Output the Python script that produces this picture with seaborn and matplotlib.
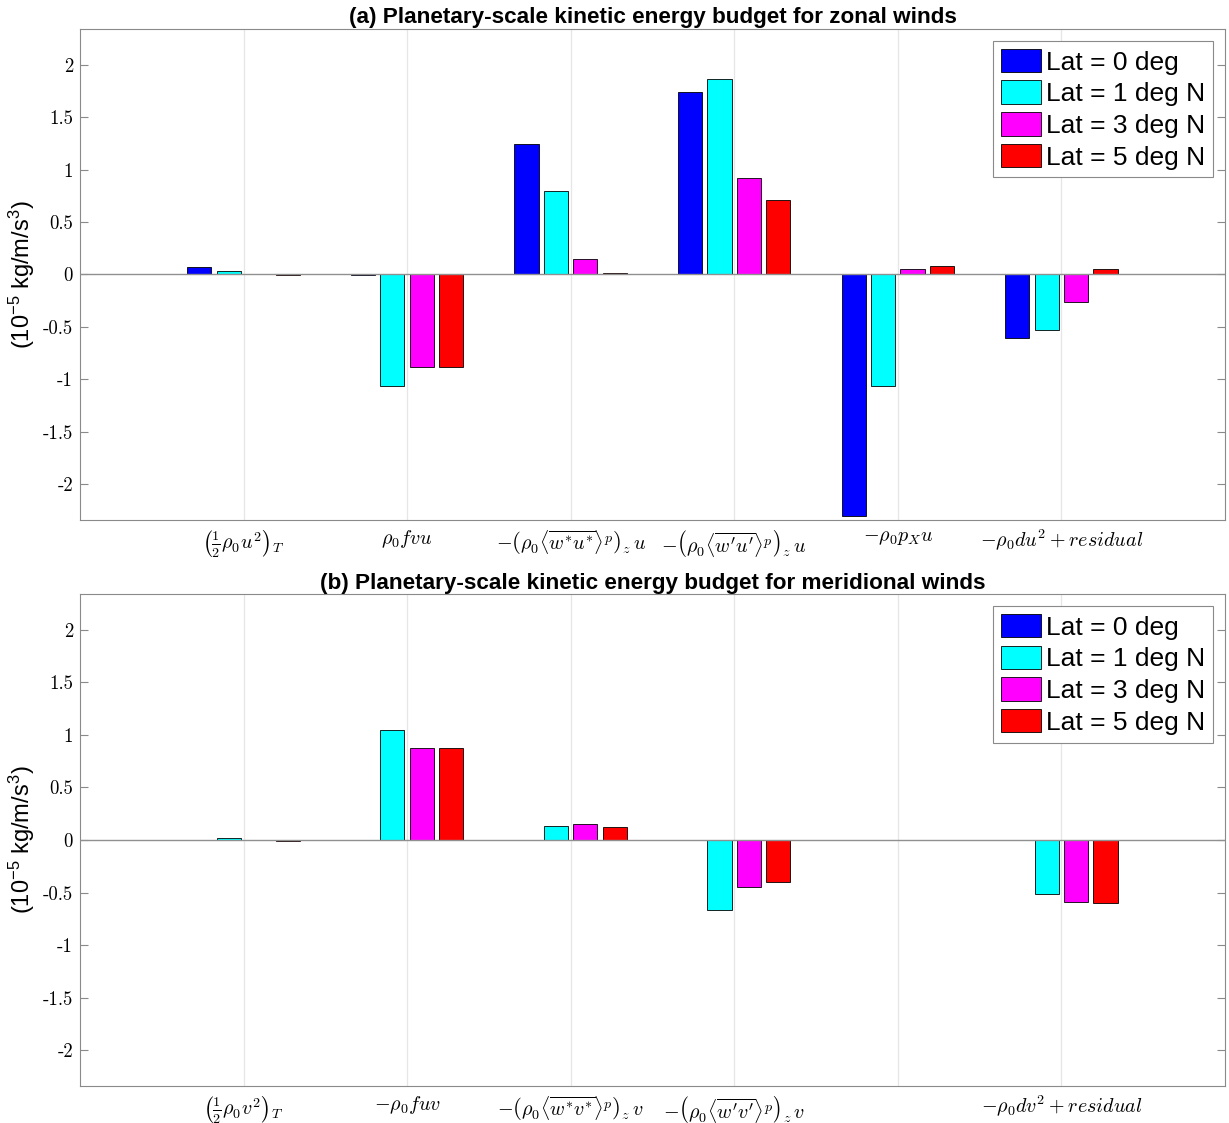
import numpy as np
import pandas as pd
import matplotlib
matplotlib.use("Agg")
import matplotlib.pyplot as plt
import seaborn as sns

# ---------------- data ----------------
lat_labels = ["Lat = 0 deg", "Lat = 1 deg N", "Lat = 3 deg N", "Lat = 5 deg N"]
lat_colors = ["#0000ff", "#00ffff", "#ff00ff", "#ff0000"]

zonal_terms = [
    r"$\left(\frac{1}{2}\rho_0 u^2\right)_T$",
    r"$\rho_0 f v u$",
    r"$-\left(\rho_0 \langle\overline{w^{*} u^{*}}\rangle^p\right)_z\, u$",
    r"$-\left(\rho_0 \langle\overline{w^{\prime} u^{\prime}}\rangle^p\right)_z\, u$",
    r"$-\rho_0 p_X u$",
    r"$-\rho_0 d u^2 + residual$",
]
zonal_lat0 = [0.07, -0.003, 1.24, 1.74, -2.30, -0.61]
zonal_lat1 = [0.03, -1.06, 0.80, 1.86, -1.06, -0.53]
zonal_lat3 = [0.005, -0.88, 0.15, 0.92, 0.05, -0.26]
zonal_lat5 = [-0.005, -0.88, 0.01, 0.71, 0.08, 0.05]

merid_terms = [
    r"$\left(\frac{1}{2}\rho_0 v^2\right)_T$",
    r"$-\rho_0 f u v$",
    r"$-\left(\rho_0 \langle\overline{w^{*} v^{*}}\rangle^p\right)_z\, v$",
    r"$-\left(\rho_0 \langle\overline{w^{\prime} v^{\prime}}\rangle^p\right)_z\, v$",
    "",
    r"$-\rho_0 d v^2 + residual$",
]
merid_lat0 = [0.0, 0.0, 0.0, 0.0, 0.0, 0.0]
merid_lat1 = [0.015, 1.05, 0.13, -0.665, 0.0, -0.51]
merid_lat3 = [-0.003, 0.875, 0.15, -0.45, 0.0, -0.59]
merid_lat5 = [-0.005, 0.875, 0.12, -0.40, 0.0, -0.60]

titles = [
    "(a) Planetary-scale kinetic energy budget for zonal winds",
    "(b) Planetary-scale kinetic energy budget for meridional winds",
]
ylabel = r"(10$^{-5}$ kg/m/s$^{3}$)"
yticks = [-2, -1.5, -1, -0.5, 0, 0.5, 1, 1.5, 2]

# ---------------- style ----------------
sns.set_theme(style="white")
plt.rcParams["font.family"] = ["Liberation Sans", "DejaVu Sans"]
plt.rcParams["mathtext.fontset"] = "custom"
plt.rcParams["mathtext.rm"] = "Liberation Sans"
plt.rcParams["mathtext.it"] = "Liberation Sans:italic"
plt.rcParams["axes.unicode_minus"] = False

edge_gray = "#8a8a8a"

fig = plt.figure(figsize=(12.29, 11.23), dpi=100)
ax_a = fig.add_axes([0.0651, 0.5370, 0.9316, 0.4372])
ax_b = fig.add_axes([0.0651, 0.0329, 0.9316, 0.4381])

panels = [
    (ax_a, zonal_terms, [zonal_lat0, zonal_lat1, zonal_lat3, zonal_lat5], titles[0]),
    (ax_b, merid_terms, [merid_lat0, merid_lat1, merid_lat3, merid_lat5], titles[1]),
]

for ax, terms, series, title in panels:
    idx = list(range(len(terms)))
    rows = []
    for lab, vals in zip(lat_labels, series):
        for i, v in zip(idx, vals):
            rows.append({"term": i, "lat": lab, "value": v})
    df = pd.DataFrame(rows)
    sns.barplot(
        data=df, x="term", y="value", hue="lat",
        order=idx, hue_order=lat_labels,
        palette=dict(zip(lat_labels, lat_colors)),
        width=0.72, gap=0.18, errorbar=None,
        edgecolor="black", linewidth=0.6, saturation=1.0, ax=ax,
    )
    ax.axhline(0, color="#909090", lw=1.0, zorder=3)
    ax.set_xlim(-1, len(terms))
    ax.set_ylim(-2.34, 2.34)
    ax.set_yticks(yticks)
    ax.set_yticklabels([f"{t:g}" for t in yticks], family="cmr10", fontsize=13.5)
    ax.set_xticks(idx)
    ax.set_xticklabels(terms, fontsize=14.5, math_fontfamily="cm")
    ax.set_xlabel("")
    ax.set_ylabel(ylabel, fontsize=17, labelpad=4, color="black")
    ax.set_title(title, fontsize=16.2, fontweight="bold", pad=4, color="black")
    ax.xaxis.grid(True, color="#e6e6e6", lw=0.9)
    ax.yaxis.grid(False)
    ax.set_axisbelow(True)
    for s in ax.spines.values():
        s.set_color(edge_gray)
        s.set_linewidth(0.8)
    ax.tick_params(axis="both", direction="in", length=6, width=0.8,
                   color=edge_gray, labelcolor="black", top=True, right=True,
                   bottom=True, left=True, pad=5)
    ax.tick_params(axis="x", length=0, pad=6)
    handles, labels = ax.get_legend_handles_labels()
    if ax.get_legend() is not None:
        ax.get_legend().remove()
    leg = ax.legend(handles, labels, loc="upper right", fontsize=19,
                    handlelength=1.5, handleheight=1.0, handletextpad=0.2,
                    labelspacing=0.22, borderpad=0.3, borderaxespad=0.45,
                    fancybox=False, framealpha=1.0, edgecolor="#8a8a8a")
    leg.get_frame().set_linewidth(0.8)
    for t in leg.get_texts():
        t.set_color("black")

fig.savefig("out.png", dpi=100)
